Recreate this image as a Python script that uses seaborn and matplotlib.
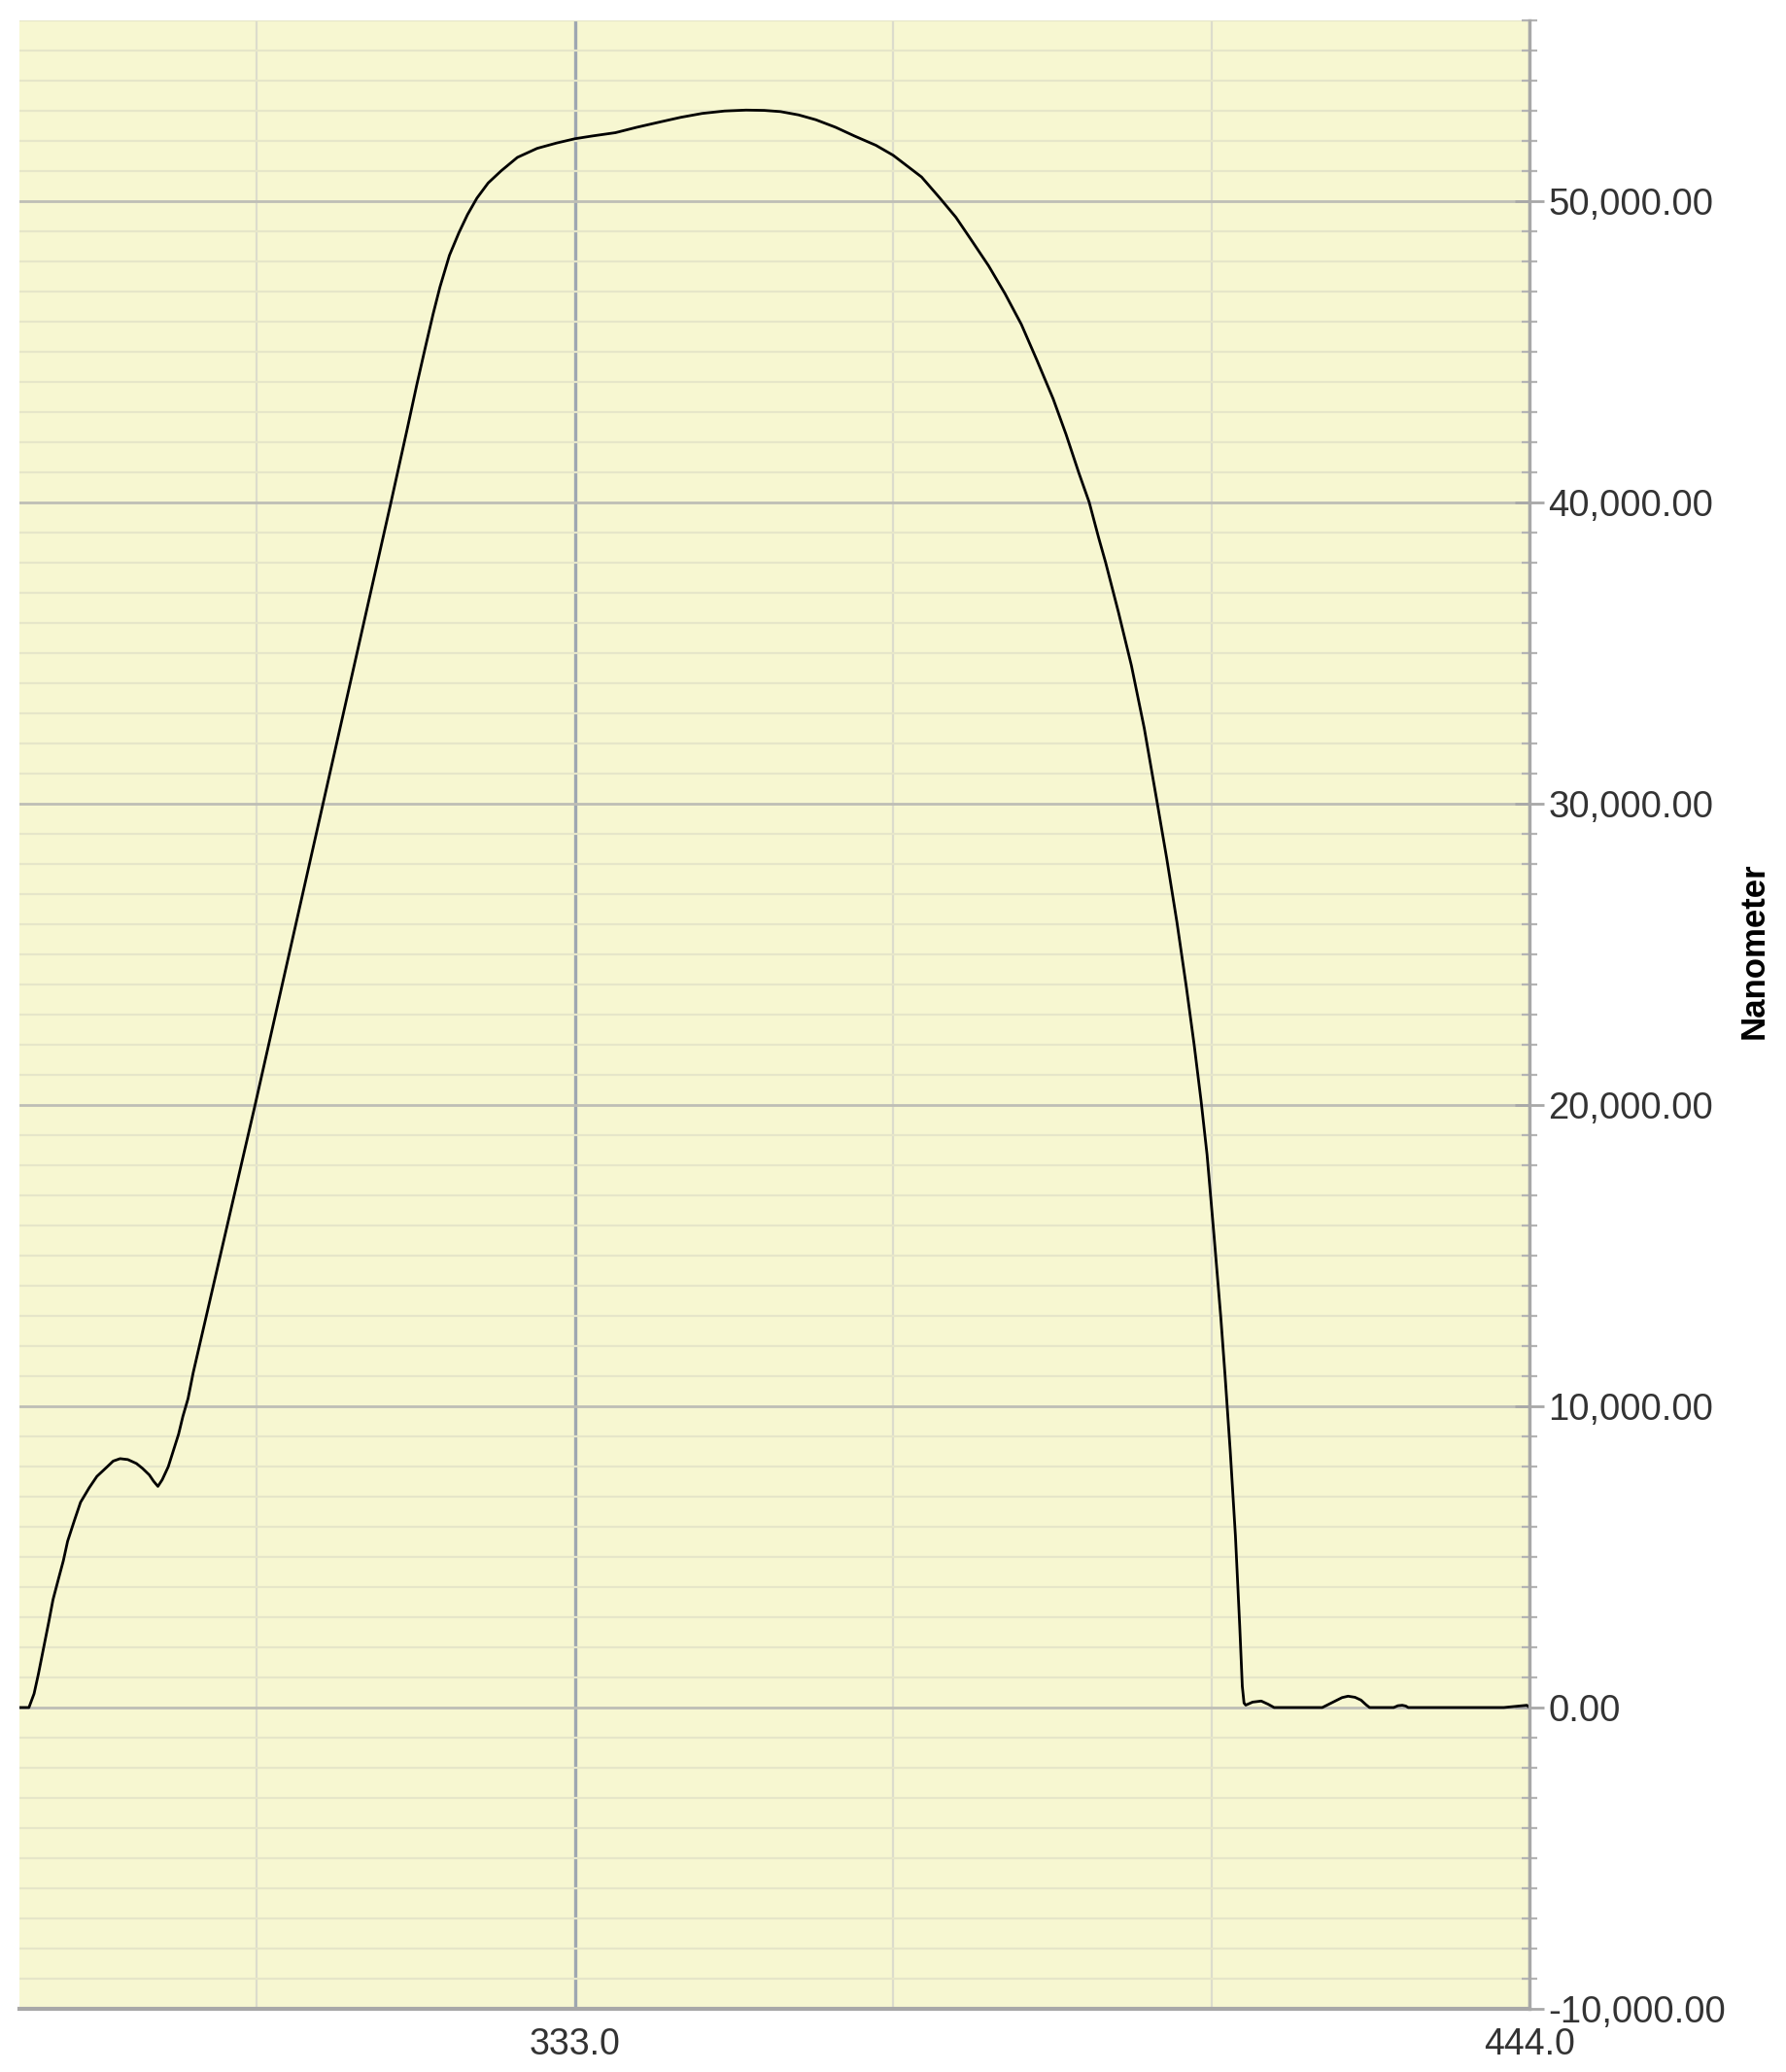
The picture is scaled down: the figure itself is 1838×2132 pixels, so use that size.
import matplotlib

matplotlib.use("Agg")
import matplotlib.pyplot as plt
import pandas as pd
import seaborn as sns
from matplotlib.ticker import FixedLocator, FuncFormatter, MultipleLocator

# values
wavelength = [
    268.4, 269.5, 270.1, 270.6, 271.2, 271.8, 272.3, 272.9, 273.5, 274.0,
    274.8, 275.5, 276.5, 277.4, 278.6, 279.3, 280.1, 281.0, 282.0, 282.7,
    283.5, 284.0, 284.5, 285.0, 285.7, 286.3, 286.9, 287.4, 288.0, 288.6,
    295.8, 303.7, 311.6, 313.5, 314.6, 315.6, 316.5, 317.3, 318.4, 319.5,
    320.5, 321.6, 322.9, 324.4, 326.3, 328.6, 330.9, 333.0, 335.0, 337.7,
    340.2, 342.8, 345.3, 347.8, 350.4, 352.9, 355.0, 356.9, 359.0, 361.0,
    363.3, 365.5, 368.0, 370.0, 373.3, 375.4, 377.3, 379.2, 381.1, 383.0,
    384.9, 386.7, 388.6, 390.1, 391.6, 392.8, 393.9, 394.7, 396.2, 397.7,
    399.2, 400.6, 401.8, 403.0, 404.1, 405.0, 405.8, 406.5, 407.3, 408.1,
    408.6, 409.2, 409.8, 410.3, 410.6, 410.8, 411.0, 411.8, 412.8, 413.6,
    414.3, 419.9, 420.6, 421.4, 422.2, 422.9, 423.7, 424.4, 425.0, 425.4,
    428.2, 428.7, 429.2, 429.6, 429.9, 441.0, 443.7, 444.0,
]
signal = [
    0, 0, 460, 1110, 1970, 2830, 3580, 4230, 4870, 5520,
    6220, 6810, 7290, 7670, 7990, 8180, 8260, 8230, 8100, 7940,
    7720, 7510, 7340, 7560, 7990, 8530, 9070, 9660, 10250, 11110,
    20000, 30000, 40000, 42450, 43900, 45150, 46250, 47150, 48200, 48950,
    49550, 50100, 50600, 51000, 51450, 51750, 51930, 52070, 52160, 52270,
    52450, 52620, 52780, 52910, 52990, 53020, 53010, 52970, 52860, 52700,
    52450, 52160, 51850, 51520, 50800, 50110, 49460, 48660, 47850, 46930,
    45910, 44730, 43440, 42260, 40970, 40000, 38820, 38010, 36350, 34590,
    32500, 30200, 28200, 26060, 23900, 22000, 20150, 18350, 15700, 12950,
    11000, 8500, 5700, 2700, 700, 150, 80, 180, 215, 110,
    0, 0, 100, 215, 330, 376, 340, 247, 90, 0,
    0, 60, 75, 50, 0, 0, 75, 0,
]

x_major_ticks = [333.0, 444.0]
x_minor_ticks = [296.0, 370.0, 407.0]
y_major_ticks = [-10000, 0, 10000, 20000, 30000, 40000, 50000]
x_limits = (268.4, 444.0)
y_limits = (-10000, 56000)
y_label = "Nanometer"


def main() -> None:
    sns.set_style("white")
    plt.rcParams["font.family"] = ["Liberation Sans", "DejaVu Sans"]

    df = pd.DataFrame({"wavelength": wavelength, "signal": signal})

    fig = plt.figure(figsize=(18.38, 21.32), dpi=100)
    ax = fig.add_axes([0.0109, 0.0305, 0.8455, 0.9597])
    ax.set_facecolor("#F7F7D1")

    sns.lineplot(
        data=df,
        x="wavelength",
        y="signal",
        color="black",
        linewidth=2.0,
        estimator=None,
        sort=False,
        ax=ax,
    )
    ax.lines[0].set_solid_joinstyle("round")

    ax.set_xlim(*x_limits)
    ax.set_ylim(*y_limits)

    ax.xaxis.set_major_locator(FixedLocator(x_major_ticks))
    ax.xaxis.set_minor_locator(FixedLocator(x_minor_ticks))
    ax.xaxis.set_major_formatter(FuncFormatter(lambda v, _: f"{v:.1f}"))
    ax.yaxis.set_major_locator(FixedLocator(y_major_ticks))
    ax.yaxis.set_minor_locator(MultipleLocator(1000))
    ax.yaxis.set_major_formatter(FuncFormatter(lambda v, _: f"{v:,.2f}"))

    ax.set_axisbelow(True)
    ax.grid(which="minor", axis="y", color="#E6E6C9", linewidth=1.6)
    ax.grid(which="major", axis="y", color="#BEBEB6", linewidth=2.0)
    ax.grid(which="minor", axis="x", color="#DCDCCC", linewidth=1.6)
    ax.grid(which="major", axis="x", color="#9EA7B1", linewidth=2.4)

    for side in ("left", "top"):
        ax.spines[side].set_visible(False)
    ax.spines["right"].set_color("#A8A8A8")
    ax.spines["right"].set_linewidth(2.4)
    ax.spines["bottom"].set_color("#A8A8A8")
    ax.spines["bottom"].set_linewidth(3.0)

    ax.yaxis.tick_right()
    ax.yaxis.set_label_position("right")
    ax.tick_params(axis="y", which="major", direction="inout", length=22, width=2,
                   color="#A8A8A8", labelsize=27.5, labelcolor="#333333", pad=3)
    ax.tick_params(axis="y", which="minor", direction="inout", length=12, width=1.6,
                   color="#B4B4B4")
    ax.tick_params(axis="x", which="both", direction="inout", length=20, width=1.5,
                   color="#A8A8A8", labelsize=27, labelcolor="#333333", pad=4)

    ax.set_xlabel("")
    ax.set_ylabel(y_label, fontsize=25, fontweight="bold", color="black")
    ax.yaxis.set_label_coords(1.149, 0.532)
    ax.yaxis.label.set_va("center")

    fig.savefig("out.png", dpi=100)
    plt.close(fig)


if __name__ == "__main__":
    main()
